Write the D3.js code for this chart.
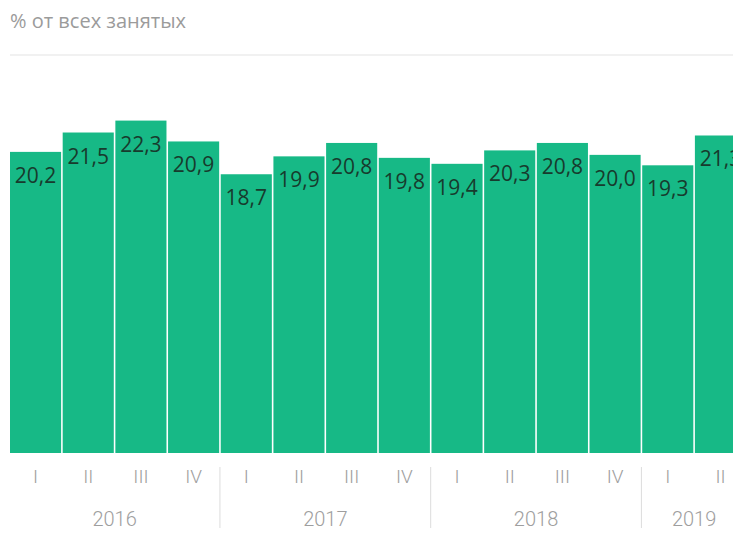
<!DOCTYPE html>
<html>
<head>
<meta charset="utf-8">
<script src="https://cdn.jsdelivr.net/npm/d3@7"></script>
<style>
  body { margin: 0; background: #fff; }
  svg { display: block; }
</style>
</head>
<body>
<div id="chart"></div>
<script>
// data: share of all employed, by quarter
var years = ["2016", "2017", "2018", "2019"];
var quarters = ["I", "II", "III", "IV", "I", "II", "III", "IV", "I", "II", "III", "IV", "I", "II"];
var quarterYears = ["2016", "2016", "2016", "2016", "2017", "2017", "2017", "2017", "2018", "2018", "2018", "2018", "2019", "2019"];
var values = [20.2, 21.5, 22.3, 20.9, 18.7, 19.9, 20.8, 19.8, 19.4, 20.3, 20.8, 20.0, 19.3, 21.3];

var width = 733, height = 540;
var baseY = 453, topY = 55;

var svg = d3.select("#chart").append("svg")
    .attr("width", width)
    .attr("height", height);

var idx = d3.range(values.length);

var x = d3.scaleBand()
    .domain(idx)
    .range([10, 746])
    .paddingInner(0.03)
    .paddingOuter(0);

var y = d3.scaleLinear()
    .domain([0, 26.7])
    .range([baseY, topY]);

// title
svg.append("text")
    .attr("x", 10)
    .attr("y", 28)
    .style("font", "20px 'Open Sans', sans-serif")
    .attr("fill", "#9b9b9b")
    .text("% от всех занятых");

// top grid line
svg.append("line")
    .attr("x1", 10).attr("x2", width)
    .attr("y1", topY).attr("y2", topY)
    .attr("stroke", "#e3e3e3")
    .attr("stroke-width", 1);

// bars
svg.append("g")
  .selectAll("rect")
  .data(idx)
  .enter().append("rect")
    .attr("x", function(i) { return x(i); })
    .attr("y", function(i) { return y(values[i]); })
    .attr("width", x.bandwidth())
    .attr("height", function(i) { return y(0) - y(values[i]); })
    .attr("fill", "#17b986");

// value labels
svg.append("g")
  .selectAll("text")
  .data(idx)
  .enter().append("text")
    .attr("x", function(i) { return x(i) + x.bandwidth() / 2; })
    .attr("y", function(i) { return y(values[i]) + 31; })
    .attr("text-anchor", "middle")
    .style("font", "21px 'Open Sans', sans-serif")
    .attr("fill", "#173b2d")
    .text(function(i) { return values[i].toFixed(1).replace(".", ","); });

// quarter labels
svg.append("g")
  .selectAll("text")
  .data(idx)
  .enter().append("text")
    .attr("x", function(i) { return x(i) + x.bandwidth() / 2; })
    .attr("y", 483)
    .attr("text-anchor", "middle")
    .style("font", "300 19px 'Roboto', sans-serif")
    .attr("fill", "#9e9e9e")
    .text(function(i) { return quarters[i]; });

// year labels and separators
var step = x.step();
years.forEach(function(yr, k) {
  var members = idx.filter(function(i) { return quarterYears[i] === yr; });
  var x0 = x(members[0]);
  var x1 = x(members[members.length - 1]) + x.bandwidth();
  svg.append("text")
    .attr("x", (x0 + x1) / 2)
    .attr("y", 526)
    .attr("text-anchor", "middle")
    .style("font", "300 20px 'Roboto', sans-serif")
    .attr("fill", "#9e9e9e")
    .text(yr);
  if (k > 0) {
    var sx = x0 - (step - x.bandwidth()) / 2;
    svg.append("line")
      .attr("x1", sx).attr("x2", sx)
      .attr("y1", 467).attr("y2", 528)
      .attr("stroke", "#dcdcdc")
      .attr("stroke-width", 1);
  }
});
</script>
</body>
</html>
